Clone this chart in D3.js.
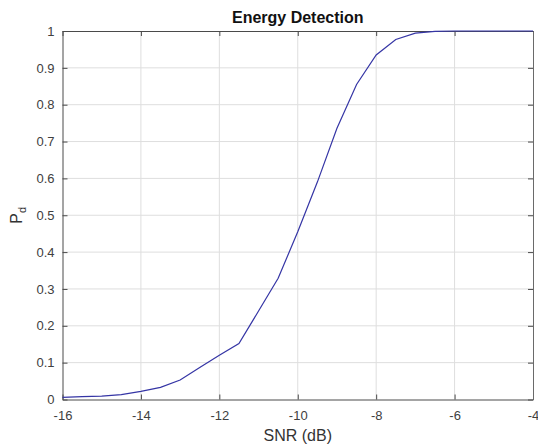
<!DOCTYPE html>
<html>
<head>
<meta charset="utf-8">
<script src="https://cdn.jsdelivr.net/npm/d3@7"></script>
<style>
  html, body { margin: 0; padding: 0; background: #fff; }
  svg { display: block; font-family: "Liberation Sans", Arial, sans-serif; }
</style>
</head>
<body>
<svg id="chart" width="538" height="446"></svg>
<script>
// Data (SNR in dB vs detection probability)
const snr = [-16, -15.5, -15, -14.5, -14, -13.5, -13, -12.5, -12, -11.5, -11, -10.5,
             -10, -9.5, -9, -8.5, -8, -7.5, -7, -6.5, -6, -5.5, -5, -4.5, -4];
const pd = [0.006, 0.008, 0.009, 0.013, 0.022, 0.033, 0.053, 0.087, 0.12, 0.152, 0.24, 0.329,
            0.455, 0.59, 0.736, 0.855, 0.935, 0.977, 0.994, 0.999, 1, 1, 1, 1, 1];
const xTicks = [-16, -14, -12, -10, -8, -6, -4];
const yTicks = [0, 0.1, 0.2, 0.3, 0.4, 0.5, 0.6, 0.7, 0.8, 0.9, 1];

const svg = d3.select("#chart");
const margin = { left: 62.5, right: 5, top: 31, bottom: 46.5 };
const width = +svg.attr("width");
const height = +svg.attr("height");

const x = d3.scaleLinear().domain([-16, -4]).range([margin.left, width - margin.right]);
const y = d3.scaleLinear().domain([0, 1]).range([height - margin.bottom, margin.top]);

const x0 = x.range()[0], x1 = x.range()[1];
const y0 = y.range()[0], y1 = y.range()[1];
const tickLen = 5;

// Grid
const grid = svg.append("g").attr("stroke", "#dedede").attr("stroke-width", 1);
grid.selectAll(".vg").data(xTicks.slice(1, -1)).join("line")
    .attr("x1", d => x(d)).attr("x2", d => x(d))
    .attr("y1", y1).attr("y2", y0);
grid.selectAll(".hg").data(yTicks.slice(1, -1)).join("line")
    .attr("x1", x0).attr("x2", x1)
    .attr("y1", d => y(d)).attr("y2", d => y(d));

// Bottom axis (ticks inward) and left axis
const xAxis = d3.axisBottom(x).tickValues(xTicks).tickSizeInner(-tickLen).tickSizeOuter(0)
    .tickPadding(11).tickFormat(d => d);
const yAxis = d3.axisLeft(y).tickValues(yTicks).tickSizeInner(-tickLen).tickSizeOuter(0)
    .tickPadding(8).tickFormat(d => d);

const gx = svg.append("g").attr("transform", `translate(0,${y0})`).call(xAxis);
const gy = svg.append("g").attr("transform", `translate(${x0},0)`).call(yAxis);

// Top and right mirror ticks
const gxt = svg.append("g").attr("transform", `translate(0,${y1})`)
    .call(d3.axisTop(x).tickValues(xTicks).tickSizeInner(-tickLen).tickSizeOuter(0).tickFormat(""));
const gyr = svg.append("g").attr("transform", `translate(${x1},0)`)
    .call(d3.axisRight(y).tickValues(yTicks).tickSizeInner(-tickLen).tickSizeOuter(0).tickFormat(""));

[gx, gy, gxt, gyr].forEach(g => {
    g.select(".domain").attr("stroke", "#4a4a4a").attr("stroke-width", 1);
    g.selectAll(".tick line").attr("stroke", "#4a4a4a");
    g.selectAll("text").attr("fill", "#404040").style("font-size", "13px")
        .style("font-family", "Liberation Sans, Arial, sans-serif");
});
gyr.select(".domain").attr("stroke", "#6a6a6a");

// Curve
const line = d3.line().x((d, i) => x(snr[i])).y(d => y(d));
svg.append("path")
    .datum(pd)
    .attr("fill", "none")
    .attr("stroke", "#3535a5")
    .attr("stroke-width", 1.2)
    .attr("d", line);

// Title and labels
svg.append("text")
    .attr("x", (x0 + x1) / 2).attr("y", 23)
    .attr("text-anchor", "middle")
    .style("font-size", "16px").style("font-weight", "bold")
    .attr("fill", "#111")
    .text("Energy Detection");

svg.append("text")
    .attr("x", (x0 + x1) / 2).attr("y", 441)
    .attr("text-anchor", "middle")
    .style("font-size", "16px")
    .attr("fill", "#333")
    .text("SNR (dB)");

const yl = svg.append("text")
    .attr("transform", `translate(22,${(y0 + y1) / 2}) rotate(-90)`)
    .attr("text-anchor", "middle")
    .style("font-size", "16px")
    .attr("fill", "#333");
yl.append("tspan").text("P");
yl.append("tspan").attr("dy", 4).style("font-size", "11px").text("d");
</script>
</body>
</html>
